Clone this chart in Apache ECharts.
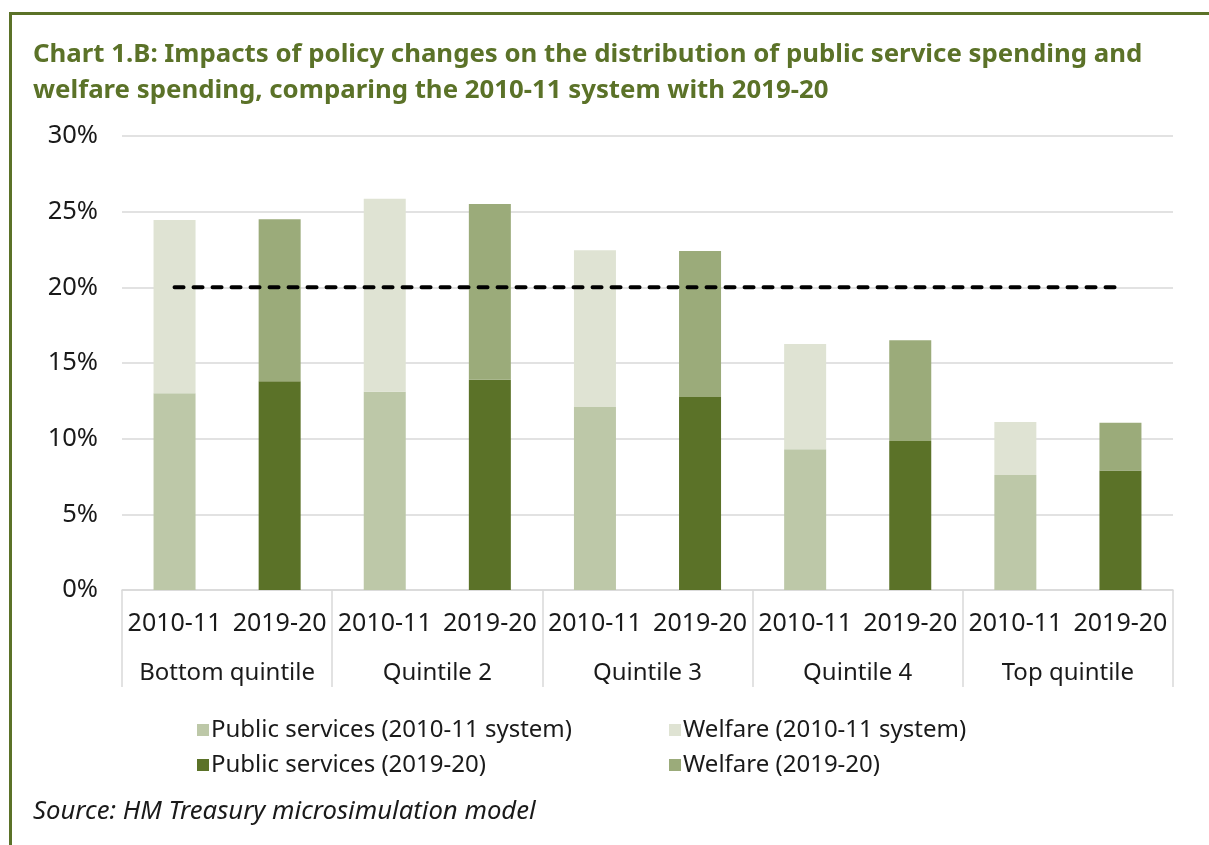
<!DOCTYPE html>
<html>
<head>
<meta charset="utf-8">
<script src="https://cdn.jsdelivr.net/npm/echarts@6/dist/echarts.min.js"></script>
<style>
  html, body { margin: 0; padding: 0; background: #fff; }
  #chart { width: 1209px; height: 845px; }
</style>
</head>
<body>
<div id="chart"></div>
<script>
// quintile groups and the two systems inside each group
const quintiles = ["Bottom quintile", "Quintile 2", "Quintile 3", "Quintile 4", "Top quintile"];
const periods = ["2010-11", "2019-20"];

// % values
const publicOld = [13.0, 13.1, 12.1, 9.3, 7.6];
const welfareOld = [11.45, 12.75, 10.35, 6.95, 3.5];
const publicNew = [13.8, 13.9, 12.75, 9.85, 7.9];
const welfareNew = [10.7, 11.6, 9.65, 6.65, 3.15];
const evenShare = [20, 20, 20, 20, 20, 20, 20, 20, 20, 20];

const yTicks = [0, 5, 10, 15, 20, 25, 30];

const GREEN = "#5b7228";
const FONT = "Noto Sans";

// 10 slots: 2010-11, 2019-20 for each quintile
const slots = [];
quintiles.forEach(() => periods.forEach(p => slots.push(p)));

const inSlot = (vals, which) => {
  const out = [];
  vals.forEach(v => {
    out.push(which === 0 ? v : null);
    out.push(which === 1 ? v : null);
  });
  return out;
};

const barSeries = (name, data, stack, color) => ({
  name: name,
  type: "bar",
  stack: stack,
  data: data,
  barWidth: 42,
  barGap: "-100%",
  xAxisIndex: 0,
  itemStyle: { color: color },
  emphasis: { disabled: true }
});

const chart = echarts.init(document.getElementById("chart"));

const option = {
  animation: false,
  textStyle: { fontFamily: FONT },
  title: {
    text: "Chart 1.B: Impacts of policy changes on the distribution of public service spending and\nwelfare spending, comparing the 2010-11 system with 2019-20",
    left: 33,
    top: 37,
    padding: 0,
    textStyle: { color: GREEN, fontSize: 25.8, fontWeight: "bold", lineHeight: 36, fontFamily: FONT }
  },
  grid: { left: 122, right: 36, top: 136, bottom: 255 },
  legend: [
    {
      orient: "vertical",
      left: 192,
      top: 713,
      itemWidth: 12,
      itemHeight: 12,
      itemGap: 11,
      icon: "rect",
      data: ["Public services (2010-11 system)", "Public services (2019-20)"],
      textStyle: { fontSize: 24, color: "#1a1a1a", padding: [0, 0, 0, -3] }
    },
    {
      orient: "vertical",
      left: 664,
      top: 713,
      itemWidth: 12,
      itemHeight: 12,
      itemGap: 11,
      icon: "rect",
      data: ["Welfare (2010-11 system)", "Welfare (2019-20)"],
      textStyle: { fontSize: 24, color: "#1a1a1a", padding: [0, 0, 0, -3] }
    }
  ],
  xAxis: [
    {
      type: "category",
      data: slots,
      position: "bottom",
      axisLine: { lineStyle: { color: "#d9d9d9", width: 1.5 } },
      axisTick: { show: false },
      axisLabel: { fontSize: 25, color: "#1a1a1a", margin: 21, interval: 0 }
    },
    {
      type: "category",
      data: quintiles,
      position: "bottom",
      offset: 0,
      axisLine: { show: false },
      axisTick: { show: true, length: 97, lineStyle: { color: "#d9d9d9", width: 1.5 } },
      axisLabel: { fontSize: 24, color: "#1a1a1a", margin: 71, interval: 0 }
    }
  ],
  yAxis: {
    type: "value",
    min: yTicks[0],
    max: yTicks[yTicks.length - 1],
    interval: 5,
    axisLine: { show: false },
    axisTick: { show: false },
    splitLine: { lineStyle: { color: "#d9d9d9", width: 1.5 } },
    axisLabel: { fontSize: 25.5, color: "#1a1a1a", margin: 24, formatter: "{value}%" }
  },
  series: [
    barSeries("Public services (2010-11 system)", inSlot(publicOld, 0), "old", "#bdc8a8"),
    barSeries("Welfare (2010-11 system)", inSlot(welfareOld, 0), "old", "#dfe3d3"),
    barSeries("Public services (2019-20)", inSlot(publicNew, 1), "new", GREEN),
    barSeries("Welfare (2019-20)", inSlot(welfareNew, 1), "new", "#9bab7a"),
    {
      name: "Even share",
      type: "line",
      data: evenShare,
      xAxisIndex: 0,
      symbol: "none",
      z: 5,
      lineStyle: { color: "#000", width: 4, type: [9, 10], cap: "round" },
      emphasis: { disabled: true }
    }
  ],
  graphic: [
    { type: "line", shape: { x1: 10, y1: 13.5, x2: 1209, y2: 13.5 }, style: { stroke: GREEN, lineWidth: 3 } },
    { type: "line", shape: { x1: 10.5, y1: 12, x2: 10.5, y2: 845 }, style: { stroke: GREEN, lineWidth: 3 } },
    {
      type: "text",
      left: 33,
      top: 799,
      style: { text: "Source: HM Treasury microsimulation model", font: "italic 25.7px 'Noto Sans'", fill: "#1a1a1a" }
    }
  ]
};

chart.setOption(option);
</script>
</body>
</html>
